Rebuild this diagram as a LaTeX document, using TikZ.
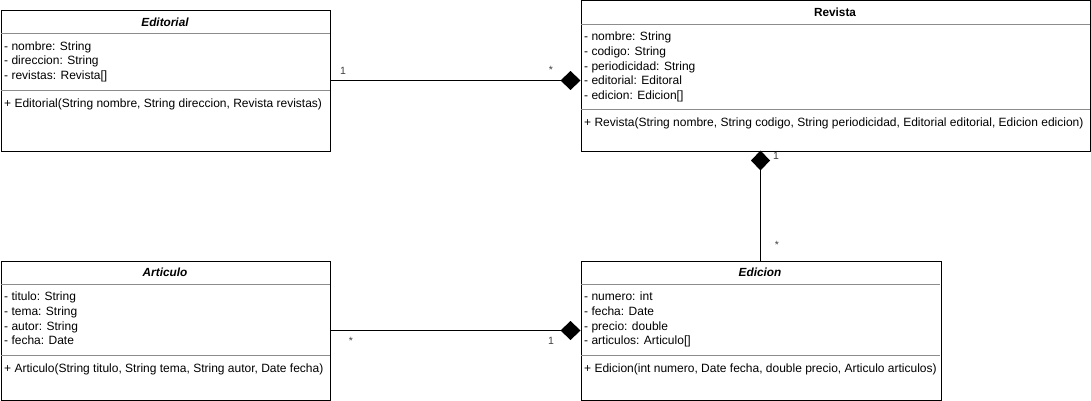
\documentclass[tikz,border=0pt]{standalone}
\usepackage{fontspec}
\setmainfont{Liberation Sans}
\usetikzlibrary{arrows.meta}
\begin{document}
\begin{tikzpicture}[x=1pt,y=-1pt,
  cls/.style={draw=black, line width=1pt, anchor=north west, inner sep=0pt, fill=white},
  ttl/.style={font=\bfseries\itshape\fontsize{11.8}{13}\selectfont, anchor=center, inner sep=0pt},
  ttlr/.style={font=\bfseries\fontsize{11.8}{13}\selectfont, anchor=center, inner sep=0pt},
  mem/.style={font=\fontsize{12}{14.6}\selectfont, anchor=north west, inner sep=0pt, align=left},
  sep/.style={draw=black!45, line width=0.8pt},
  link/.style={line width=1pt, -{Diamond[length=20pt,width=19pt,fill=black]}},
  mult/.style={font=\fontsize{10.5}{12}\selectfont, inner sep=0pt, text=black!75}]
\useasboundingbox (0,0) rectangle (1091,401);

% Editorial
\node[cls, minimum width=329.5pt, minimum height=140pt] (ed) at (0.5,10.5) {};
\node[ttl] (edt) at (165,22) {Editorial};
\draw[sep] (1,33.5) -- (329.5,33.5);
\node[mem] (eda) at (4,41.5) {- nombre: String\\- direccion: String\\- revistas: Revista[]};
\draw[sep] (1,90.5) -- (329.5,90.5);
\node[mem] (edm) at (4,99) {+ Editorial(String nombre, String direccion, Revista revistas)};

% Revista
\node[cls, minimum width=509.5pt, minimum height=150pt] (rv) at (580.5,0.5) {};
\node[ttlr] (rvt) at (835,12) {Revista};
\draw[sep] (581,24) -- (1089.5,24);
\node[mem] (rva) at (584,32) {- nombre: String\\- codigo: String\\- periodicidad: String\\- editorial: Editoral\\- edicion: Edicion[]};
\draw[sep] (581,109) -- (1089.5,109);
\node[mem] (rvm) at (584,118) {+ Revista(String nombre, String codigo, String periodicidad, Editorial editorial, Edicion edicion)};

% Articulo
\node[cls, minimum width=329.5pt, minimum height=139pt] (ar) at (0.5,260.5) {};
\node[ttl] (art) at (165,272) {Articulo};
\draw[sep] (1,284) -- (329.5,284);
\node[mem] (ara) at (4,292) {- titulo: String\\- tema: String\\- autor: String\\- fecha: Date};
\draw[sep] (1,355) -- (329.5,355);
\node[mem] (arm) at (4,364) {+ Articulo(String titulo, String tema, String autor, Date fecha)};

% Edicion
\node[cls, minimum width=360pt, minimum height=139pt] (ec) at (580.5,260.5) {};
\node[ttl] (ect) at (760,272) {Edicion};
\draw[sep] (581,284) -- (940,284);
\node[mem] (eca) at (584,292) {- numero: int\\- fecha: Date\\- precio: double\\- articulos: Articulo[]};
\draw[sep] (581,355) -- (940,355);
\node[mem] (ecm) at (584,364) {+ Edicion(int numero, Date fecha, double precio, Articulo articulos)};

% connectors
\coordinate (e1) at (ed.north east |- 0,80.5);
\coordinate (r1) at (rv.north west |- 0,80.5);
\draw[link] (e1) -- (r1);
\node[mult] (m1) at (343,71) {1};
\node[mult] (m2) at (551,70) {*};

\coordinate (r2) at (760.5,150.5);
\coordinate (c2) at (760.5,260.5);
\draw[link] (c2) -- (r2);
\node[mult] (m3) at (776,156) {1};
\node[mult] (m4) at (777,245) {*};

\coordinate (a3) at (ar.north east |- 0,330.5);
\coordinate (c3) at (ec.north west |- 0,330.5);
\draw[link] (a3) -- (c3);
\node[mult] (m5) at (351,341) {*};
\node[mult] (m6) at (551,341) {1};
\end{tikzpicture}
\end{document}
